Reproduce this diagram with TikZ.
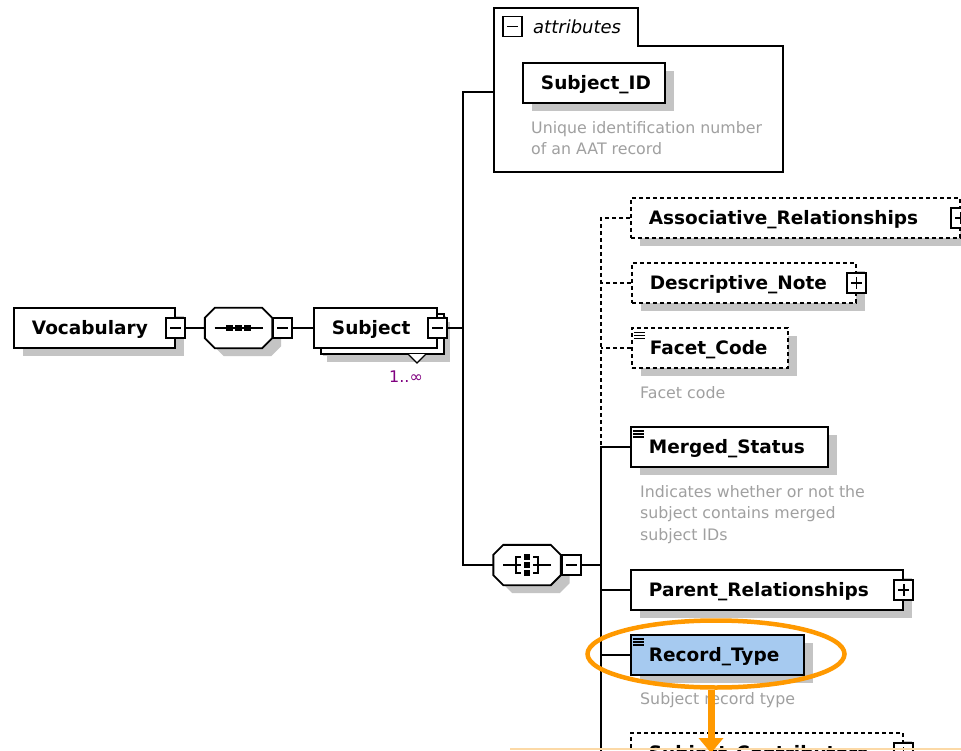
\documentclass[tikz,border=0pt]{standalone}
\usepackage{fontspec}
\setmainfont{DejaVu Sans}
\usetikzlibrary{shapes.geometric}
\usetikzlibrary{shadows}
\usetikzlibrary{arrows.meta}
\definecolor{shadowgray}{HTML}{C4C4C4}
\definecolor{notegray}{HTML}{A0A0A0}
\definecolor{selblue}{HTML}{A6CAF0}
\definecolor{occpurple}{HTML}{800080}
\definecolor{hlorange}{HTML}{FF9900}
\definecolor{calloutorange}{HTML}{FCD9A6}

\begin{document}
\begin{tikzpicture}[x=1pt, y=-1pt]
                \tikzstyle{boxline} = [line width=1.9pt]
                \tikzstyle{grayshadow} = [drop shadow={shadow xshift=9pt, shadow yshift=-8pt, fill=shadowgray, opacity=1, draw=none}]
                \tikzstyle{elem} = [boxline, draw, fill=white, grayshadow, anchor=west, minimum height=40pt, inner xsep=18pt, inner ysep=0pt, text height=17pt, text depth=4pt, align=left, font=\fontsize{18.5}{22}\selectfont\bfseries, text width=#1]
                \tikzstyle{optional} = [line width=1.6pt, dash pattern=on 4pt off 3pt]
                \tikzstyle{btn} = [boxline, draw, fill=white, minimum width=19pt, minimum height=20pt, inner sep=0pt]
                \tikzstyle{minus} = [btn, path picture={\draw[line width=1.5pt] ([xshift=4pt]path picture bounding box.west) -- ([xshift=-4pt]path picture bounding box.east);}]
                \tikzstyle{plus} = [btn, path picture={\draw[line width=1.5pt] ([xshift=4pt]path picture bounding box.west) -- ([xshift=-4pt]path picture bounding box.east) ([yshift=-4pt]path picture bounding box.north) -- ([yshift=4pt]path picture bounding box.south);}]
                \tikzstyle{compositor} = [minimum width=67pt, minimum height=40pt, inner sep=0pt]
                \tikzstyle{note} = [anchor=north west, inner sep=0pt, align=left, text=notegray, font=\fontsize{15.8}{21.5}\selectfont]
                \fill[white] (0,0) rectangle (961,751);
                \useasboundingbox (0,0) rectangle (961,751);
                \node[elem=125pt] (voc) at (13,328) {Vocabulary};
                \node[minus] (vocB) at (voc.east) {};
                \node[compositor] (seq) at (238.5,328) {};
                \node[compositor] (cho) at (527,565) {};
                \foreach \c in {seq,cho}
                    \draw[boxline, fill=white, grayshadow] ([xshift=10pt]\c.north west) -- ([xshift=-10pt]\c.north east) -- ([yshift=-10pt]\c.north east) -- ([yshift=10pt]\c.south east) -- ([xshift=-10pt]\c.south east) -- ([xshift=10pt]\c.south west) -- ([yshift=10pt]\c.south west) -- ([yshift=-10pt]\c.north west) -- cycle;
                \node[minus, anchor=west] (seqB) at (seq.east) {};
                \draw[line width=1.5pt] ([xshift=-24pt]seq.center) -- ([xshift=24pt]seq.center);
                \foreach \dx in {-9,0,9}
                    \fill ([xshift=\dx pt]seq.center) +(-3.2,-3.2) rectangle +(3.2,3.2);
                \node[elem=87pt, drop shadow={shadow xshift=13pt, shadow yshift=-14pt, fill=shadowgray, opacity=1, draw=none}, copy shadow={shadow xshift=7pt, shadow yshift=-6pt}] (subj) at (313,328) {Subject};
                \node[minus] (subjB) at (subj.east) {};
                \draw[line width=1.3pt, fill=white] (408,354) -- (417,363) -- (426,354);
                \node[text=occpurple, inner sep=0pt, font=\fontsize{16}{16}\selectfont] (occ) at (406,377) {1..∞};
                \draw[boxline, fill=white] (494,8) -- (638,8) -- (638,46) -- (783,46) -- (783,172) -- (494,172) -- cycle;
                \coordinate (attrL) at (494,92);
                \node[minus] (attrB) at (512.5,26.5) {};
                \node[anchor=west, inner sep=0pt, font=\fontsize{18}{18}\selectfont\itshape] (attrT) at (533,27) {attributes};
                \node[elem=106pt] (sid) at (522,83) {Subject\_ID};
                \node[note] (sidN) at (531,121) {Unique identification number\\of an AAT record};
                \node[minus, anchor=west] (choB) at (cho.east) {};
                \begin{scope}[shift={(cho.center)}, line width=1.5pt]
                    \draw (-24,0) -- (-11,0) (-6,-8) -- (-11,-8) -- (-11,8) -- (-6,8) (-11,0) -- (-6,0);
                    \draw (24,0) -- (11,0) (6,-8) -- (11,-8) -- (11,8) -- (6,8) (11,0) -- (6,0);
                    \foreach \dy in {-8,0,8}
                        \fill (-2.8,\dy-2.8) rectangle (2.8,\dy+2.8);
                \end{scope}
                \coordinate (tr) at (463,0);
                \coordinate (br) at (601,0);
                \node[elem=293pt, optional] (assoc) at (630,218) {Associative\_Relationships};
                \node[plus] (assocB) at (assoc.east) {};
                \node[elem=188pt, optional] (desc) at (631,283) {Descriptive\_Note};
                \node[plus] (descB) at (desc.east) {};
                \node[elem=120pt, optional] (facet) at (631,348) {Facet\_Code};
                \node[note] (facetN) at (640,386) {Facet code};
                \node[elem=161pt] (merged) at (630,447) {Merged\_Status};
                \node[note] (mergedN) at (640,485) {Indicates whether or not the\\subject contains merged\\subject IDs};
                \node[elem=236pt] (parent) at (630,590) {Parent\_Relationships};
                \node[plus] (parentB) at (parent.east) {};
                \node[elem=137pt, fill=selblue] (rtype) at (630,655) {Record\_Type};
                \node[note] (rtypeN) at (640,692) {Subject record type};
                \node[elem=236pt, optional] (contrib) at (630,753) {Subject\_Contributors};
                \node[plus] (contribB) at (contrib.east) {};
                \foreach \n in {facet,merged,rtype}
                    \foreach \dy in {5,8,11}
                        \draw[line width=1.2pt] ([shift={(3,\dy)}]\n.north west) -- ++(11,0);
                \draw[boxline] (vocB.east) -- (seq.west);
                \draw[boxline] (seqB.east) -- (subj.west);
                \draw[boxline] (subjB.east) -- (subjB.east -| tr);
                \draw[boxline] (attrL) -| (cho.west -| tr) -- (cho.west);
                \draw[boxline] (choB.east) -- (choB.east -| br);
                \draw[boxline, optional] (assoc.west) -| (merged.west -| br);
                \draw[boxline, optional] (desc.west) -- (desc.west -| br);
                \draw[boxline, optional] (facet.west) -- (facet.west -| br);
                \draw[boxline] (merged.west) -| (contrib.west -| br);
                \draw[boxline] (parent.west) -- (parent.west -| br);
                \draw[boxline] (rtype.west) -- (rtype.west -| br);
                \draw[calloutorange, line width=1.2pt] (510,749) -- (961,749);
                \node[ellipse, draw=hlorange, line width=4.5pt, minimum width=257pt, minimum height=67pt, inner sep=0pt] (hl) at (716,654) {};
                \coordinate (hlEnd) at (711,753);
                \draw[hlorange, line width=7pt, -{Triangle[width=24pt, length=15pt]}] (hl.south -| hlEnd) -- (hlEnd);
            \end{tikzpicture}
\end{document}
